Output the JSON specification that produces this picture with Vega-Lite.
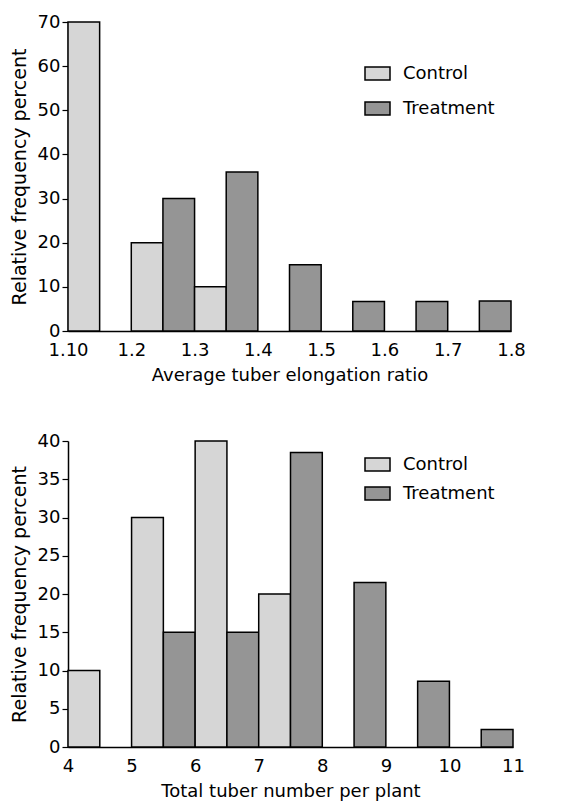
{
  "$schema": "https://vega.github.io/schema/vega-lite/v6.json",
  "padding": {"left": 10, "top": 13, "right": 5, "bottom": 5},
  "background": "white",
  "config": {
    "font": "DejaVu Sans",
    "view": {"stroke": null},
    "axis": {
      "domainColor": "black",
      "domainWidth": 1.5,
      "tickColor": "black",
      "tickWidth": 1.2,
      "labelColor": "black",
      "titleColor": "black",
      "labelFont": "DejaVu Sans",
      "titleFont": "DejaVu Sans",
      "labelFontSize": 18,
      "titleFontSize": 18,
      "titleFontWeight": "normal",
      "grid": false
    },
    "legend": {
      "labelFont": "DejaVu Sans",
      "labelFontSize": 18,
      "labelColor": "black",
      "symbolType": "M-1,-0.52H1V0.52H-1Z",
      "symbolSize": 625,
      "symbolStrokeColor": "black",
      "symbolStrokeWidth": 1.5,
      "labelOffset": 12,
      "padding": 0
    }
  },
  "datasets": {
    "elong": [
      {"group": "Control", "start": 1.10, "end": 1.15, "pct": 70},
      {"group": "Control", "start": 1.20, "end": 1.25, "pct": 20},
      {"group": "Treatment", "start": 1.25, "end": 1.30, "pct": 30},
      {"group": "Control", "start": 1.30, "end": 1.35, "pct": 10},
      {"group": "Treatment", "start": 1.35, "end": 1.40, "pct": 36},
      {"group": "Treatment", "start": 1.45, "end": 1.50, "pct": 15},
      {"group": "Treatment", "start": 1.55, "end": 1.60, "pct": 6.7},
      {"group": "Treatment", "start": 1.65, "end": 1.70, "pct": 6.7},
      {"group": "Treatment", "start": 1.75, "end": 1.80, "pct": 6.8}
    ],
    "number": [
      {"group": "Control", "start": 4, "end": 4.5, "pct": 10},
      {"group": "Control", "start": 5, "end": 5.5, "pct": 30},
      {"group": "Treatment", "start": 5.5, "end": 6, "pct": 15},
      {"group": "Control", "start": 6, "end": 6.5, "pct": 40},
      {"group": "Treatment", "start": 6.5, "end": 7, "pct": 15},
      {"group": "Control", "start": 7, "end": 7.5, "pct": 20},
      {"group": "Treatment", "start": 7.5, "end": 8, "pct": 38.5},
      {"group": "Treatment", "start": 8.5, "end": 9, "pct": 21.5},
      {"group": "Treatment", "start": 9.5, "end": 10, "pct": 8.6},
      {"group": "Treatment", "start": 10.5, "end": 11, "pct": 2.3}
    ]
  },
  "spacing": 48,
  "resolve": {"scale": {"x": "independent", "y": "independent", "fill": "independent"}, "legend": {"fill": "independent"}},
  "vconcat": [
    {
      "width": 443,
      "height": 309,
      "data": {"name": "elong"},
      "mark": {"type": "bar", "stroke": "black", "strokeWidth": 1.5},
      "encoding": {
        "x": {
          "field": "start", "type": "quantitative",
          "scale": {"domain": [1.1, 1.8], "nice": false, "zero": false},
          "axis": {
            "title": "Average tuber elongation ratio",
            "values": [1.1, 1.2, 1.3, 1.4, 1.5, 1.6, 1.7, 1.8],
            "labelExpr": "datum.value < 1.15 ? '1.10' : format(datum.value, '.1f')",
            "ticks": false,
            "labelPadding": 10,
            "titlePadding": 7,
            "labelFlush": false,
            "labelOverlap": false
          }
        },
        "x2": {"field": "end"},
        "y": {
          "field": "pct", "type": "quantitative",
          "scale": {"domain": [0, 70], "nice": false},
          "axis": {
            "title": "Relative frequency percent",
            "values": [0, 10, 20, 30, 40, 50, 60, 70],
            "tickSize": 6,
            "labelPadding": 2,
            "titlePadding": 8,
            "titleFontSize": 19
          }
        },
        "y2": {"datum": 0},
        "fill": {
          "field": "group", "type": "nominal",
          "scale": {"domain": ["Control", "Treatment"], "range": ["#d6d6d6", "#959595"]},
          "legend": {"title": null, "orient": "none", "legendX": 296, "legendY": 38, "rowPadding": 12}
        }
      }
    },
    {
      "width": 445,
      "height": 306,
      "data": {"name": "number"},
      "mark": {"type": "bar", "stroke": "black", "strokeWidth": 1.5},
      "encoding": {
        "x": {
          "field": "start", "type": "quantitative",
          "scale": {"domain": [4, 11], "nice": false, "zero": false},
          "axis": {
            "title": "Total tuber number per plant",
            "values": [4, 5, 6, 7, 8, 9, 10, 11],
            "ticks": false,
            "labelPadding": 10,
            "titlePadding": 7,
            "labelFlush": false,
            "labelOverlap": false
          }
        },
        "x2": {"field": "end"},
        "y": {
          "field": "pct", "type": "quantitative",
          "scale": {"domain": [0, 40], "nice": false},
          "axis": {
            "title": "Relative frequency percent",
            "values": [0, 5, 10, 15, 20, 25, 30, 35, 40],
            "tickSize": 6,
            "labelPadding": 2,
            "titlePadding": 8,
            "titleFontSize": 19
          }
        },
        "y2": {"datum": 0},
        "fill": {
          "field": "group", "type": "nominal",
          "scale": {"domain": ["Control", "Treatment"], "range": ["#d6d6d6", "#959595"]},
          "legend": {"title": null, "orient": "none", "legendX": 296, "legendY": 10, "rowPadding": 6}
        }
      }
    }
  ]
}
